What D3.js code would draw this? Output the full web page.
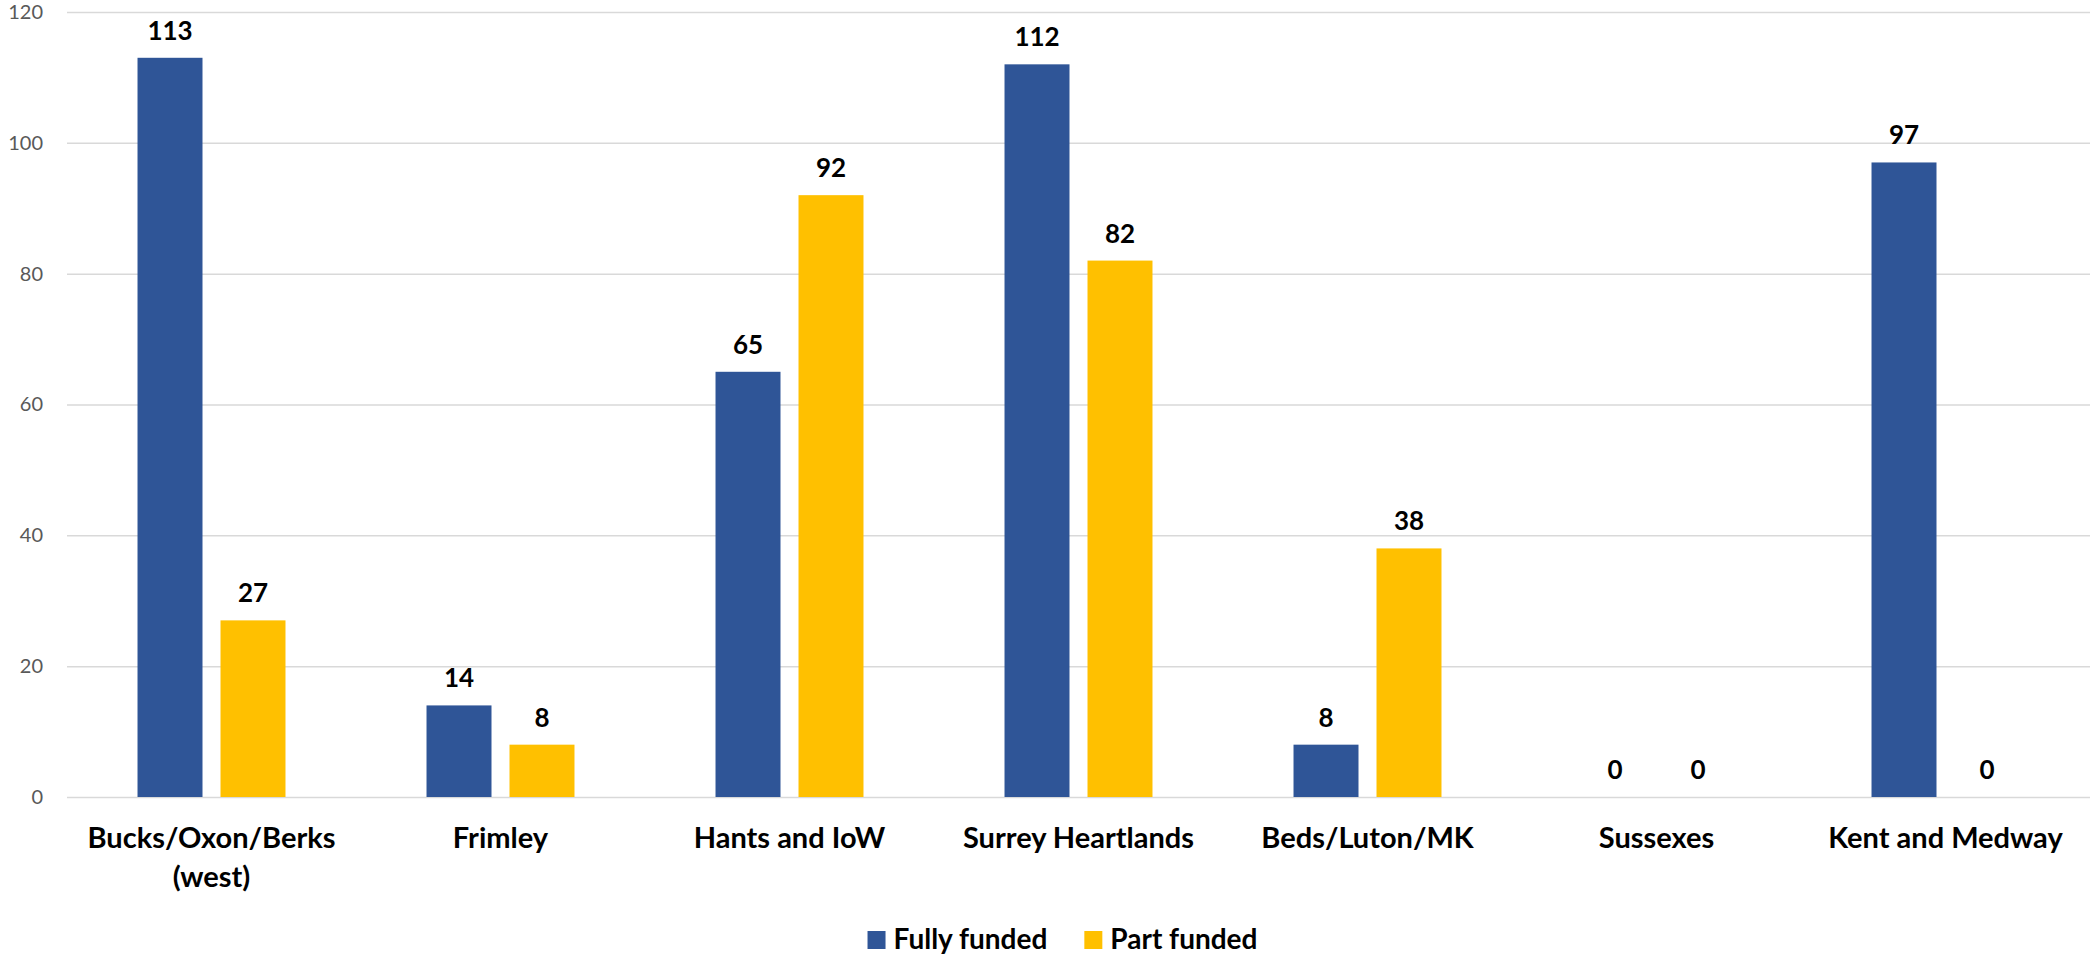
<!DOCTYPE html>
<html>
<head>
<meta charset="utf-8">
<script src="https://cdn.jsdelivr.net/npm/d3@7"></script>
<style>
  html, body { margin: 0; padding: 0; background: #ffffff; }
  svg { display: block; font-family: Lato, "Open Sans", sans-serif; }
</style>
</head>
<body>
<svg id="chart" width="2092" height="957"></svg>
<script>
// Funding by area
const categories = ["Bucks/Oxon/Berks (west)", "Frimley", "Hants and IoW", "Surrey Heartlands", "Beds/Luton/MK", "Sussexes", "Kent and Medway"];
const seriesNames = ["Fully funded", "Part funded"];
const fullyFunded = [113, 14, 65, 112, 8, 0, 97];
const partFunded = [27, 8, 92, 82, 38, 0, 0];
const yTicks = [0, 20, 40, 60, 80, 100, 120];
const colors = ["#2F5597", "#FFC000"];

const plot = { left: 67, right: 2090, top: 12, bottom: 797 };

const svg = d3.select("#chart");

const x0 = d3.scaleBand().domain(categories).range([plot.left, plot.right]).paddingInner(0).paddingOuter(0);
const bw = x0.bandwidth();
const groupW = bw * 0.512;
const x1 = d3.scaleBand().domain(seriesNames)
  .range([bw / 2 - groupW / 2, bw / 2 + groupW / 2])
  .paddingInner(0.217).paddingOuter(0);
const y = d3.scaleLinear().domain([0, 120]).range([plot.bottom, plot.top]);

// gridlines and value axis labels
const yAxis = d3.axisLeft(y).tickValues(yTicks).tickSize(-(plot.right - plot.left)).tickPadding(24);
const gy = svg.append("g").attr("transform", `translate(${plot.left},0)`).call(yAxis);
gy.select(".domain").remove();
gy.selectAll(".tick line").attr("stroke", "#D9D9D9").attr("stroke-width", 1.5);
gy.selectAll(".tick text")
  .attr("fill", "#595959")
  .style("font-size", "20px")
  .style("font-family", "Lato, sans-serif");

const rows = categories.map((c, i) => ({ cat: c, values: [fullyFunded[i], partFunded[i]] }));

const groups = svg.append("g").selectAll("g.grp")
  .data(rows).join("g")
  .attr("class", "grp")
  .attr("transform", d => `translate(${x0(d.cat)},0)`);

groups.selectAll("rect")
  .data(d => d.values.map((v, k) => ({ s: seriesNames[k], v, k })))
  .join("rect")
  .attr("x", d => x1(d.s))
  .attr("width", x1.bandwidth())
  .attr("y", d => y(d.v))
  .attr("height", d => y(0) - y(d.v))
  .attr("fill", d => colors[d.k]);

groups.selectAll("text.val")
  .data(d => d.values.map((v, k) => ({ s: seriesNames[k], v, k })))
  .join("text")
  .attr("class", "val")
  .attr("x", d => x1(d.s) + x1.bandwidth() / 2)
  .attr("y", d => y(d.v) - 18)
  .attr("text-anchor", "middle")
  .style("font-size", "26px")
  .style("font-weight", "700")
  .attr("fill", "#000")
  .text(d => d.v);

// category labels, wrapped to band width
const labelG = svg.append("g");
rows.forEach(r => {
  const cx = x0(r.cat) + bw / 2;
  const t = labelG.append("text")
    .attr("x", cx)
    .attr("y", plot.bottom + 51)
    .attr("text-anchor", "middle")
    .style("font-size", "29px")
    .style("font-weight", "700")
    .attr("fill", "#000");
  const words = r.cat.split(" ");
  let line = [];
  let tspan = t.append("tspan").attr("x", cx).attr("dy", 0);
  words.forEach(w => {
    line.push(w);
    tspan.text(line.join(" "));
    if (tspan.node().getComputedTextLength() > bw - 20 && line.length > 1) {
      line.pop();
      tspan.text(line.join(" "));
      line = [w];
      tspan = t.append("tspan").attr("x", cx).attr("dy", 39).text(w);
    }
  });
});

// legend
const legend = svg.append("g");
const items = seriesNames.map((name, k) => {
  const g = legend.append("g");
  g.append("rect").attr("x", 0).attr("y", -18).attr("width", 18).attr("height", 18).attr("fill", colors[k]);
  const tx = g.append("text").attr("x", 26).attr("y", 0)
    .style("font-size", "28px").style("font-weight", "700").attr("fill", "#000").text(name);
  return { g, w: 26 + tx.node().getComputedTextLength() };
});
const gap = 37;
const total = items.reduce((a, it) => a + it.w, 0) + gap * (items.length - 1);
let lx = 1062.5 - total / 2;
items.forEach(it => {
  it.g.attr("transform", `translate(${lx},949)`);
  lx += it.w + gap;
});
</script>
</body>
</html>
